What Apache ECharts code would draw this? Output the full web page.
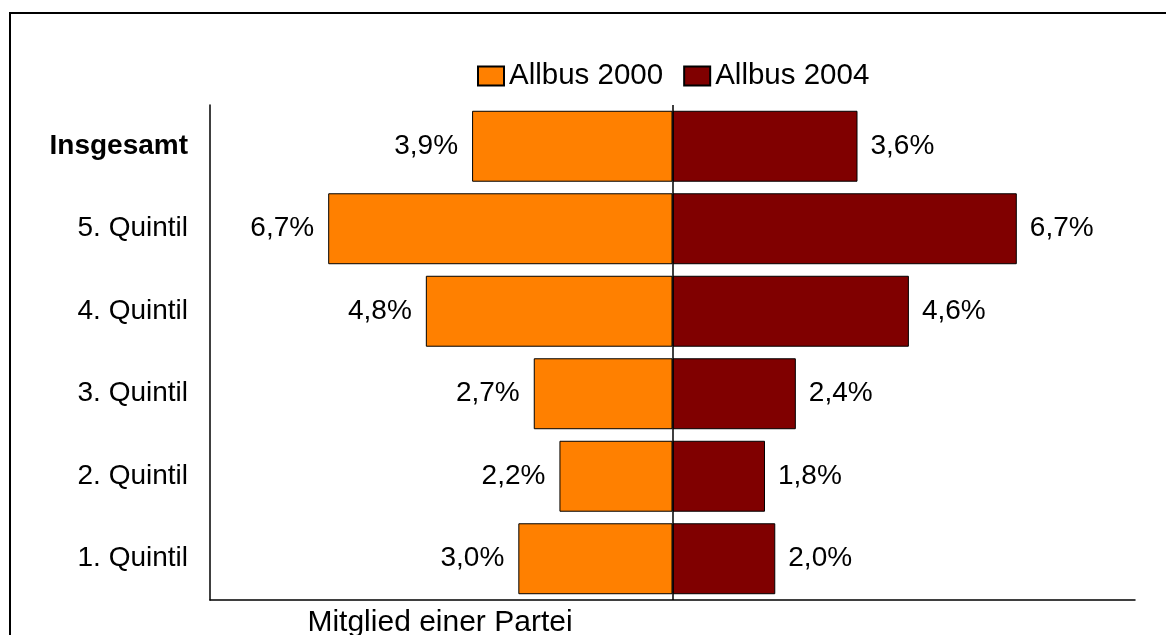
<!DOCTYPE html>
<html>
<head>
<meta charset="utf-8">
<script src="https://cdn.jsdelivr.net/npm/echarts@6/dist/echarts.min.js"></script>
<style>
html,body{margin:0;padding:0;background:#fff;}
#chart{width:1166px;height:635px;}
</style>
</head>
<body>
<div id="chart"></div>
<script>
var categories = ['Insgesamt', '5. Quintil', '4. Quintil', '3. Quintil', '2. Quintil', '1. Quintil'];
var allbus2000 = [3.9, 6.7, 4.8, 2.7, 2.2, 3.0];
var allbus2004 = [3.6, 6.7, 4.6, 2.4, 1.8, 2.0];
var seriesNames = ['Allbus 2000', 'Allbus 2004'];
var axisTitle = 'Mitglied einer Partei';

var FONT = 'Liberation Sans, Arial, sans-serif';
function fmt(v) { return Math.abs(v).toFixed(1).replace('.', ',') + '%'; }

var chart = echarts.init(document.getElementById('chart'));
chart.setOption({
  animation: false,
  backgroundColor: '#fff',
  textStyle: { fontFamily: FONT },
  legend: {
    left: 472, top: 56,
    itemWidth: 26, itemHeight: 19, itemGap: 20,
    icon: 'rect',
    textStyle: { fontSize: 29.5, color: '#000', fontFamily: FONT },
    data: seriesNames
  },
  grid: { left: 210, right: 31, top: 105, bottom: 35, containLabel: false },
  xAxis: {
    type: 'value', min: -9, max: 9,
    axisLine: { show: true, onZero: false, lineStyle: { color: '#000', width: 1.5 } },
    axisTick: { show: false }, axisLabel: { show: false }, splitLine: { show: false }
  },
  yAxis: {
    type: 'category', data: categories, inverse: true,
    axisLine: { show: true, onZero: false, lineStyle: { color: '#000', width: 1.5 } },
    axisTick: { show: false },
    axisLabel: {
      margin: 22, fontSize: 28, color: '#000', fontFamily: FONT,
      formatter: function (v) { return v === 'Insgesamt' ? '{b|' + v + '}' : v; },
      rich: { b: { fontWeight: 'bold', fontSize: 28, color: '#000', fontFamily: FONT } }
    }
  },
  series: [
    {
      name: seriesNames[0], type: 'bar',
      data: allbus2000.map(function (v) { return -v; }),
      barCategoryGap: '14%', barGap: '-100%',
      itemStyle: { color: '#FF8000', borderColor: '#000', borderWidth: 1 },
      label: { show: true, position: 'left', distance: 14, fontSize: 28, color: '#000', fontFamily: FONT,
        formatter: function (p) { return fmt(p.value); } }
    },
    {
      name: seriesNames[1], type: 'bar',
      data: allbus2004,
      barCategoryGap: '14%', barGap: '-100%',
      itemStyle: { color: '#800000', borderColor: '#000', borderWidth: 1 },
      label: { show: true, position: 'right', distance: 13, fontSize: 28, color: '#000', fontFamily: FONT,
        formatter: function (p) { return fmt(p.value); } },
      markLine: {
        silent: true, symbol: 'none', label: { show: false },
        lineStyle: { color: '#000', width: 1.5, type: 'solid' },
        data: [{ xAxis: 0 }]
      }
    }
  ],
  graphic: [
    { type: 'rect', shape: { x: 10, y: 13, width: 1200, height: 700 },
      style: { fill: 'none', stroke: '#000', lineWidth: 2 }, silent: true },
    { type: 'text', x: 440, y: 608,
      style: { text: axisTitle, fontSize: 30, fill: '#000', fontFamily: FONT, textAlign: 'center', textVerticalAlign: 'top' } }
  ]
});
</script>
</body>
</html>
